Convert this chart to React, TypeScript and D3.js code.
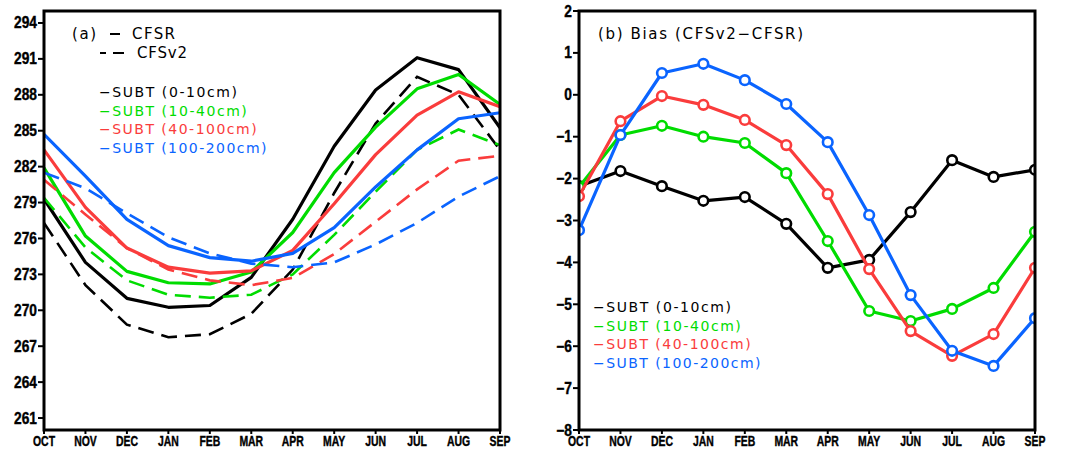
import React from "react";
import * as d3 from "d3";

// month labels along x
const months = ["OCT", "NOV", "DEC", "JAN", "FEB", "MAR", "APR", "MAY", "JUN", "JUL", "AUG", "SEP"];

// (a) soil temperature, K  -- CFSR (solid) and CFSv2 (dashed)
const cfsr0_10 = [279.3, 274.0, 271.0, 270.25, 270.4, 272.75, 277.6, 283.7, 288.4, 291.1, 290.1, 285.25];
const cfsv2_0_10 = [277.3, 272.1, 268.8, 267.75, 268.0, 269.7, 273.4, 279.8, 285.6, 289.5, 288.0, 283.4];
const cfsr10_40 = [281.9, 276.2, 273.25, 272.3, 272.2, 273.2, 276.5, 281.5, 285.3, 288.5, 289.7, 287.2];
const cfsv2_10_40 = [279.4, 275.25, 272.5, 271.3, 271.05, 271.3, 273.0, 276.3, 279.9, 283.4, 285.1, 283.8];
const cfsr40_100 = [283.4, 278.6, 275.2, 273.6, 273.1, 273.3, 275.0, 278.9, 283.0, 286.3, 288.25, 287.0];
const cfsv2_40_100 = [280.9, 278.0, 275.2, 273.4, 272.5, 272.1, 272.7, 274.7, 277.4, 280.1, 282.5, 282.9];
const cfsr100_200 = [284.7, 281.2, 277.6, 275.4, 274.4, 274.1, 274.75, 276.9, 280.3, 283.4, 286.0, 286.5];
const cfsv2_100_200 = [281.5, 280.2, 278.1, 276.1, 274.75, 273.9, 273.6, 274.0, 275.5, 277.3, 279.5, 281.2];

// (b) bias CFSv2 - CFSR
const bias0_10 = [-2.18, -1.82, -2.18, -2.53, -2.44, -3.08, -4.13, -3.94, -2.8, -1.56, -1.96, -1.79];
const bias10_40 = [-2.2, -0.96, -0.74, -1.0, -1.15, -1.87, -3.49, -5.16, -5.4, -5.11, -4.61, -3.27];
const bias40_100 = [-2.42, -0.63, -0.03, -0.24, -0.6, -1.2, -2.37, -4.16, -5.64, -6.23, -5.71, -4.13];
const bias100_200 = [-3.23, -0.96, 0.52, 0.74, 0.35, -0.22, -1.13, -2.87, -4.78, -6.11, -6.47, -5.33];

const layers = ["SUBT (0-10cm)", "SUBT (10-40cm)", "SUBT (40-100cm)", "SUBT (100-200cm)"];
const colors = ["#000000", "#00dc00", "#fa3c3c", "#0a64ff"];

const ticksA = d3.range(261, 295, 3);
const ticksB = d3.range(-8, 3, 1);

const tickFont = "'Liberation Sans', Arial, sans-serif";
const textFont = "'DejaVu Sans', sans-serif";

const top = 11, bottom = 430;

// bold condensed label, squeezed horizontally around its anchor
function Squeezed({ x, y, sx, size, anchor, children }: any) {
  return (
    <g transform={`translate(${x},${y}) scale(${sx},1)`}>
      <text x={0} y={0} textAnchor={anchor} fontFamily={tickFont} fontWeight="bold" fontSize={size}
        stroke="#000" strokeWidth={0.4}>
        {children}
      </text>
    </g>
  );
}

function Frame({ x0, x1, yScale, ticks, fmt, clipId }: any) {
  const x = d3.scalePoint().domain(months).range([x0, x1]);
  return (
    <g>
      {ticks.map((t: number) => (
        <g key={t}>
          <line x1={x0 - 6} x2={x0} y1={yScale(t)} y2={yScale(t)} stroke="#000" strokeWidth={2} />
          <Squeezed x={x0 - 7} y={yScale(t) + 5.5} sx={0.86} size={16} anchor="end">{fmt(t)}</Squeezed>
        </g>
      ))}
      {months.map((m) => (
        <g key={m}>
          <line x1={x(m)} x2={x(m)} y1={bottom} y2={bottom + 4} stroke="#000" strokeWidth={2} />
          <Squeezed x={x(m)} y={446} sx={0.72} size={14.5} anchor="middle">{m}</Squeezed>
        </g>
      ))}
      <rect x={x0} y={top} width={x1 - x0} height={bottom - top} fill="none" stroke="#000" strokeWidth={3} />
      <clipPath id={clipId}>
        <rect x={x0} y={top} width={x1 - x0} height={bottom - top} />
      </clipPath>
    </g>
  );
}

function Label({ x, y, w, size, fill, children }: any) {
  return (
    <text x={x} y={y} fill={fill || "#000"} fontFamily={textFont} fontSize={size}
      textLength={w} lengthAdjust="spacing">{children}</text>
  );
}

export default function App() {
  // panel (a)
  const xa = d3.scalePoint().domain(months).range([44, 500]);
  const ya = d3.scaleLinear().domain([260, 295]).range([bottom, top]);
  const lineA = d3.line<number>().x((d, i) => xa(months[i]) as number).y((d) => ya(d));
  const solids = [cfsr0_10, cfsr10_40, cfsr40_100, cfsr100_200];
  const dashes = [cfsv2_0_10, cfsv2_10_40, cfsv2_40_100, cfsv2_100_200];

  // panel (b)
  const xb = d3.scalePoint().domain(months).range([579, 1035]);
  const yb = d3.scaleLinear().domain([-8, 2]).range([bottom, top]);
  const lineB = d3.line<number>().x((d, i) => xb(months[i]) as number).y((d) => yb(d));
  const biases = [bias0_10, bias10_40, bias40_100, bias100_200];

  const fmtB = (t: number) => (t < 0 ? "\u2212" + Math.abs(t) : String(t));

  return (
    <svg width={1076} height={450} style={{ position: "absolute", left: 0, top: 0, background: "#fff" }}>
      <rect width={1076} height={450} fill="#fff" />

      {/* ---- (a) ---- */}
      <g clipPath="url(#clipA)">
        {solids.map((s, i) => (
          <g key={i}>
            <path d={lineA(dashes[i]) as string} fill="none" stroke={colors[i]} strokeWidth={2.6}
              strokeDasharray="16,8" />
            <path d={lineA(s) as string} fill="none" stroke={colors[i]} strokeWidth={3.2} strokeLinejoin="round" />
          </g>
        ))}
      </g>
      <Frame x0={44} x1={500} yScale={ya} ticks={ticksA} fmt={(t: number) => String(t)} clipId="clipA" />

      <Label x={72} y={39} w={24} size={15}>(a)</Label>
      <line x1={110} x2={120} y1={34} y2={34} stroke="#000" strokeWidth={2} />
      <Label x={132} y={39} w={43} size={15}>CFSR</Label>
      <line x1={100} x2={106} y1={53} y2={53} stroke="#000" strokeWidth={2} />
      <line x1={113} x2={124} y1={53} y2={53} stroke="#000" strokeWidth={2} />
      <Label x={137} y={58} w={50} size={15}>CFSv2</Label>

      {layers.map((l, i) => (
        <Label key={l} x={99} y={97 + i * 18.6} fill={colors[i]} size={14}
          w={(l.length + 1) * 9.85}>{"\u2212" + l}</Label>
      ))}

      {/* ---- (b) ---- */}
      <g clipPath="url(#clipB)">
        {biases.map((b, i) => (
          <g key={i}>
            <path d={lineB(b) as string} fill="none" stroke={colors[i]} strokeWidth={3.2} strokeLinejoin="round" />
            {b.map((v, j) => (
              <circle key={j} cx={xb(months[j])} cy={yb(v)} r={4.8} fill="#fff" stroke={colors[i]} strokeWidth={2.6} />
            ))}
          </g>
        ))}
      </g>
      <Frame x0={579} x1={1035} yScale={yb} ticks={ticksB} fmt={fmtB} clipId="clipB" />

      <Label x={598} y={39} w={205} size={15}>(b) Bias (CFSv2{"\u2212"}CFSR)</Label>

      {layers.map((l, i) => (
        <Label key={l} x={593} y={312 + i * 18.6} fill={colors[i]} size={14}
          w={(l.length + 1) * 9.85}>{"\u2212" + l}</Label>
      ))}
    </svg>
  );
}
